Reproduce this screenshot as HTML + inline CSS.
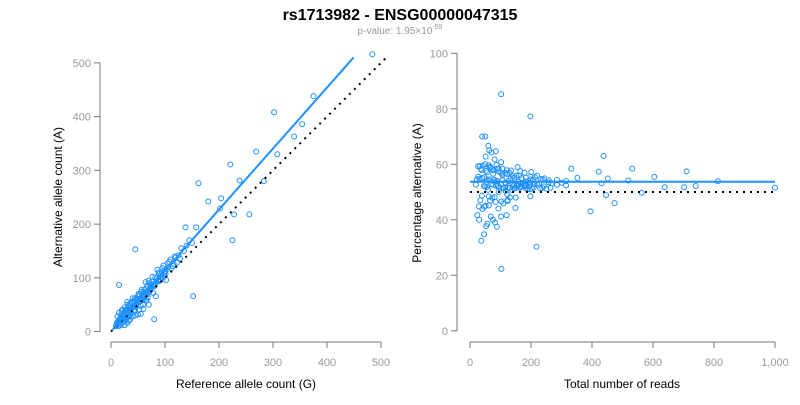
<!DOCTYPE html>
<html><head><meta charset="utf-8"><style>
body{margin:0;background:#fff;width:800px;height:400px;overflow:hidden;font-family:"Liberation Sans",Arial,sans-serif}
svg text{font-family:"Liberation Sans",Arial,sans-serif}
</style></head><body>
<svg id="chart" width="800" height="400" xmlns="http://www.w3.org/2000/svg">
<text x="400" y="20" text-anchor="middle" font-size="16" font-weight="bold" fill="#000">rs1713982 - ENSG00000047315</text>
<text x="400" y="34" text-anchor="middle" font-size="10" fill="#999">p-value: 1.95×10<tspan dy="-5" font-size="7">-59</tspan></text>
<g id="left"></g>
<g id="right"></g>
</svg>
<script>
const refCounts=[12,18,25,9,14,33,41,22,28,16,47,38,55,62,31,20,44,70,52,36,27,58,66,19,48,75,83,40,60,90,35,24,51,68,88,42,30,57,79,95,15,26,39,64,73,100,110,46,54,85,120,34,61,77,92,105,13,21,29,37,45,53,71,81,97,115,130,43,59,67,87,140,23,32,50,63,76,99,108,125,17,49,56,72,94,112,135,11,38,65,82,102,118,145,27,44,78,86,98,104,20,35,58,74,91,16,30,47,62,84,106,24,40,69,88,122,14,28,52,66,80,96,18,33,56,73,116,25,42,60,78,93,10,22,36,54,70,89,128,32,46,68,101,150,30,25,40,60,50,70,22,20,15,30,25,12,40,18,35,45,55,65,28,33,484,375,302,354,339,269,308,221,238,283,162,180,204,202,228,256,225,45,138,158,152,80,15];
const altCounts=[15,16,37,10,10,43,45,41,23,22,47,44,33,78,50,19,48,95,41,43,39,59,58,32,54,84,66,54,73,108,31,32,70,63,110,39,42,78,84,118,21,21,55,92,80,112,134,60,62,99,138,28,69,102,96,127,19,26,30,52,39,69,90,88,123,122,155,57,50,85,95,160,18,44,66,67,93,104,130,142,25,58,74,76,112,118,150,16,35,80,101,96,140,170,29,62,72,115,110,116,30,52,68,86,104,13,36,60,60,92,120,26,47,76,97,128,17,33,55,74,86,100,22,37,60,81,126,30,49,64,88,101,12,24,40,57,74,94,136,30,49,70,108,165,16,12,28,42,32,50,30,40,35,55,45,28,62,12,22,30,48,58,40,20,516,438,408,386,363,335,330,311,281,280,276,242,248,229,218,218,170,153,194,194,66,23,87];
const leftXTicks=[0,100,200,300,400,500];
const leftYTicks=[0,100,200,300,400,500];
const rightXTicks=[0,200,400,600,800,1000];
const rightXLabels=["0","200","400","600","800","1,000"];
const rightYTicks=[0,20,40,60,80,100];
const fitSlope=[1.135];
const fitPct=[53.7];
const nullPct=[50];

const NS="http://www.w3.org/2000/svg";
function mk(parent,tag,attrs,text){const e=document.createElementNS(NS,tag);for(const k in attrs)e.setAttribute(k,attrs[k]);if(text!==undefined)e.textContent=text;parent.appendChild(e);return e;}
const lx=v=>111+v*0.54, ly=v=>331.6-v*0.5375;
const rx=v=>470+v*0.305, ry=v=>330.8-v*2.775;
const AX="#777", TL="#999";

const L=document.getElementById('left');
let e;
e=mk(L,'line',{x1:100,x2:100,y1:ly(0),y2:ly(500),stroke:AX});

leftYTicks.forEach(t=>{mk(L,'line',{x1:94,x2:100,y1:ly(t),y2:ly(t),stroke:AX});
 e=mk(L,'text',{x:91,y:ly(t)+4,'text-anchor':'end','font-size':11,fill:TL},String(t));
 });
e=mk(L,'line',{x1:lx(0),x2:lx(500),y1:342,y2:342,stroke:AX});

leftXTicks.forEach(t=>{mk(L,'line',{x1:lx(t),x2:lx(t),y1:342,y2:348,stroke:AX});
 e=mk(L,'text',{x:lx(t),y:366,'text-anchor':'middle','font-size':11,fill:TL},String(t));
 });
e=mk(L,'text',{x:246,y:388,'text-anchor':'middle','font-size':12,fill:'#000'},'Reference allele count (G)');

e=mk(L,'text',{x:0,y:0,'text-anchor':'middle','font-size':12,fill:'#000',transform:'translate(62,197) rotate(-90)'},'Alternative allele count (A)');

refCounts.forEach((r,i)=>{e=mk(L,'circle',{cx:lx(r),cy:ly(altCounts[i]),r:2.5,fill:'none',stroke:'#1e90ff','stroke-width':1});
 });
e=mk(L,'line',{x1:lx(0),y1:ly(0),x2:lx(510),y2:ly(510),stroke:'#000','stroke-width':2,'stroke-dasharray':'2,5'});

const maxR=Math.max(...refCounts), fitEnd=Math.min(maxR*0.93,500/fitSlope[0]*1.02);
e=mk(L,'line',{x1:lx(3),y1:ly(3*fitSlope[0]),x2:lx(fitEnd),y2:ly(fitEnd*fitSlope[0]),stroke:'#1e90ff','stroke-width':2});


const R=document.getElementById('right');
e=mk(R,'line',{x1:457,x2:457,y1:ry(0),y2:ry(100),stroke:AX});

rightYTicks.forEach(t=>{mk(R,'line',{x1:451,x2:457,y1:ry(t),y2:ry(t),stroke:AX});
 e=mk(R,'text',{x:448,y:ry(t)+4,'text-anchor':'end','font-size':11,fill:TL},String(t));
 });
e=mk(R,'line',{x1:rx(0),x2:rx(1000),y1:342,y2:342,stroke:AX});

rightXTicks.forEach((t,i)=>{mk(R,'line',{x1:rx(t),x2:rx(t),y1:342,y2:348,stroke:AX});
 e=mk(R,'text',{x:rx(t),y:366,'text-anchor':'middle','font-size':11,fill:TL},rightXLabels[i]);
 });
e=mk(R,'text',{x:622,y:388,'text-anchor':'middle','font-size':12,fill:'#000'},'Total number of reads');

e=mk(R,'text',{x:0,y:0,'text-anchor':'middle','font-size':12,fill:'#000',transform:'translate(421,193) rotate(-90)'},'Percentage alternative (A)');

refCounts.forEach((r,i)=>{const tot=r+altCounts[i];
 e=mk(R,'circle',{cx:rx(tot),cy:ry(altCounts[i]/tot*100),r:2.5,fill:'none',stroke:'#1e90ff','stroke-width':1});
 });
e=mk(R,'line',{x1:rx(0),y1:ry(nullPct[0]),x2:rx(1000),y2:ry(nullPct[0]),stroke:'#000','stroke-width':2,'stroke-dasharray':'2,5'});

e=mk(R,'line',{x1:rx(0),y1:ry(fitPct[0]),x2:rx(1000),y2:ry(fitPct[0]),stroke:'#1e90ff','stroke-width':2});

</script>
</body></html>
